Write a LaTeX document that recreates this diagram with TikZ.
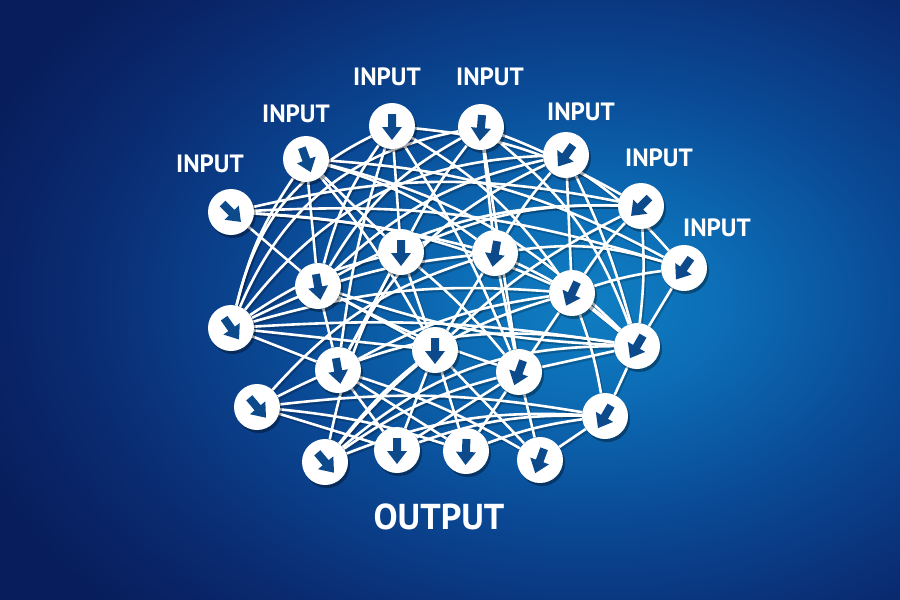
\documentclass[tikz,border=0pt]{standalone}
\usepackage{fontspec}
\setmainfont{PT Sans}
\usetikzlibrary{shadows}
\pgfdeclarelayer{background}
\pgfdeclarelayer{edgelayer}
\pgfsetlayers{background,edgelayer,main}
\definecolor{arrowblue}{RGB}{12,74,140}
\definecolor{bgouter}{RGB}{8,30,92}
\pgfdeclareradialshading{bgglow}{\pgfpoint{0bp}{0bp}}{rgb(0bp)=(0.063,0.494,0.761); rgb(10bp)=(0.047,0.431,0.714); rgb(25bp)=(0.039,0.282,0.580); rgb(40bp)=(0.039,0.165,0.439); rgb(50bp)=(0.031,0.118,0.361)}
\begin{document}
\begin{tikzpicture}[x=1pt,y=-1pt]
  \tikzset{NeuronStyle/.style = {shape        = circle,
                                 fill         = white,
                                 inner sep    = 0pt,
                                 minimum size = 46pt,
                                 drop shadow  = {shadow xshift=2pt, shadow yshift=-3pt,
                                                 opacity=0.35, fill=black}}}
  \tikzset{SynapseStyle/.style = {draw       = white,
                                  line width = 2.6pt}}
  \tikzset{SynapseShadow/.style = {draw       = black,
                                   line width = 3pt,
                                   opacity    = 0.2,
                                   transform canvas = {shift={(1.5pt,-2pt)}}}}
  \tikzset{ArrowStyle/.style = {fill = arrowblue}}
  \tikzset{LabelStyle/.style = {text = white, inner sep = 0pt,
                                font = \bfseries\fontsize{25}{25}\selectfont}}

\useasboundingbox (0,0) rectangle (900,600);
\begin{pgfonlayer}{background}
  \begin{scope}
    \clip (0,0) rectangle (900,600);
    \fill[bgouter] (0,0) rectangle (900,600);
    \begin{scope}[shift={(590,300)}, xscale=12.95, yscale=8.97, transform shape]
      \node[inner sep=0pt] (glow) {\pgfuseshading{bgglow}};
    \end{scope}
  \end{scope}
\end{pgfonlayer}

% neurons
\foreach \i/\x/\y in {1/231/212, 2/306/159, 3/392/126, 4/481/127, 5/566/155,
                      6/641/206, 7/684/268, 8/401/252, 9/495/253, 10/318/286,
                      11/572/293, 12/231/328, 13/637/346, 14/338/370, 15/435/350,
                      16/519/372, 17/257/407, 18/605/416, 19/325/462, 20/397/450,
                      21/466/451, 22/540/460}
  \node[NeuronStyle] (n\i) at (\x,\y) {};

\foreach \i/\a in {1/-45, 2/-70, 3/-90, 4/-95, 5/-125, 6/-135, 7/-125, 8/-90,
                   9/-100, 10/-80, 11/-115, 12/-55, 13/-120, 14/-80, 15/-90,
                   16/-110, 17/-50, 18/-120, 19/-50, 20/-90, 21/-92, 22/-110}
  \fill[ArrowStyle, shift={(n\i)}, rotate=\a]
    (-12,-4) -- (1,-4) -- (1,-10) -- (14,0) -- (1,10) -- (1,4) -- (-12,4) -- cycle;

% synapses
\def\synapses{1/6/12, 1/7/10, 1/10/0, 1/11/10, 1/9/5,
  2/8/0, 2/9/10, 2/13/15, 2/7/12, 2/10/0, 2/12/-10, 2/15/5,
  3/8/0, 3/10/-10, 3/12/-25, 3/11/12, 3/6/12, 3/16/5, 3/14/-5,
  4/9/0, 4/8/-5, 4/10/-15, 4/12/-28, 4/13/15, 4/16/0, 4/7/14,
  5/11/0, 5/9/-5, 5/10/-15, 5/14/-18, 5/13/5, 5/12/-25,
  6/11/-5, 6/13/5, 6/8/-12, 6/10/-15, 6/15/-8,
  7/11/-5, 7/9/-12, 7/13/0,
  8/14/0, 8/15/0, 8/16/5, 8/12/-10, 8/19/-8,
  9/15/0, 9/16/0, 9/13/8, 9/12/-10, 9/17/-15,
  10/14/0, 10/15/0, 10/16/-5, 10/13/-8,
  11/13/0, 11/16/0, 11/18/5, 11/14/-10, 11/19/-18,
  12/11/10, 12/14/0, 12/13/6, 12/15/0,
  13/16/0, 13/18/0, 13/19/-20, 13/17/-18,
  14/21/0, 14/22/6, 14/20/0,
  15/20/0, 15/21/0, 15/22/0, 15/19/-5,
  16/20/0, 16/21/0, 16/22/0, 16/19/-10,
  17/18/8, 17/20/0, 17/21/6,
  18/19/-12, 18/22/0, 18/20/-10, 18/21/-6}
\begin{pgfonlayer}{edgelayer}
  \foreach \a/\b/\c in \synapses
    \draw[SynapseShadow] (n\a) to[bend left=\c] (n\b);
  \foreach \a/\b/\c in \synapses
    \draw[SynapseStyle] (n\a) to[bend left=\c] (n\b);
\end{pgfonlayer}

% labels
\foreach \i/\x/\y in {1/210/164, 2/296/114, 3/387/77, 4/490/77,
                      5/581/112, 6/659/158, 7/717/228}
  \node[LabelStyle] (lab\i) at (\x,\y) {INPUT};
\node[LabelStyle, font=\bfseries\fontsize{36}{36}\selectfont] (out) at (439,517) {OUTPUT};

\end{tikzpicture}
\end{document}
